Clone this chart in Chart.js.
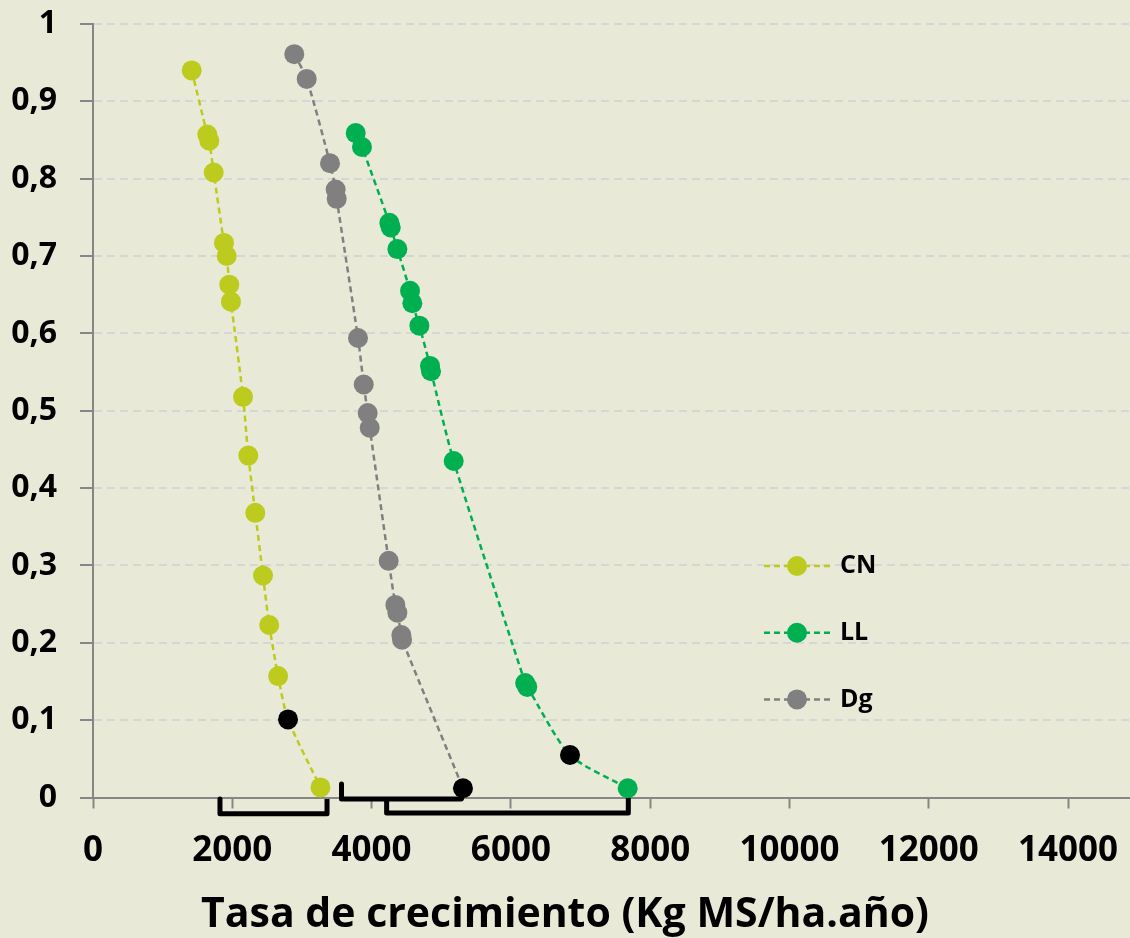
<!DOCTYPE html>
<html lang="es">
<head>
<meta charset="utf-8">
<title>Tasa de crecimiento</title>
<script src="https://cdn.jsdelivr.net/npm/chart.js@4/dist/chart.umd.min.js"></script>
<style>
  html, body { margin: 0; padding: 0; background: #e9e9d8; }
  #cadre { width: 1130px; height: 938px; }
</style>
</head>
<body>
<div id="cadre"><canvas id="grafico"></canvas></div>
<script>
// Données (x = Kg MS/ha.año, y = probabilité cumulée)
const cnX = [1417, 1641, 1670, 1733, 1881, 1920, 1957, 1981, 2154, 2230, 2330, 2441, 2530, 2658, 2800, 3266];
const cnY = [0.940, 0.857, 0.849, 0.808, 0.717, 0.700, 0.663, 0.641, 0.518, 0.442, 0.368, 0.287, 0.223, 0.157, 0.101, 0.013];
const llX = [3772, 3862, 4255, 4275, 4370, 4552, 4585, 4686, 4839, 4853, 5179, 6205, 6235, 6849, 7677];
const llY = [0.859, 0.841, 0.743, 0.737, 0.709, 0.655, 0.639, 0.610, 0.558, 0.551, 0.435, 0.148, 0.143, 0.055, 0.012];
const dgX = [2890, 3068, 3403, 3484, 3499, 3805, 3887, 3944, 3973, 4245, 4341, 4370, 4427, 4437, 5312];
const dgY = [0.961, 0.929, 0.820, 0.786, 0.774, 0.594, 0.534, 0.497, 0.478, 0.306, 0.249, 0.239, 0.210, 0.204, 0.012];

// point noir de chaque série (index)
const cnNoir = 14;
const llNoir = 13;
const dgNoir = 14;

// accolades sous l'axe des x
const accCNX = [1823, 1823, 3360, 3360];
const accCNY = [-0.002, -0.021, -0.021, -0.002];
const accDgX = [3568, 3568, 5290, 5312];
const accDgY = [0.0175, -0.002, -0.002, 0.005];
const accLLX = [4216, 4216, 7686, 7686];
const accLLY = [-0.005, -0.020, -0.020, 0.0];

const xTicks = [0, 2000, 4000, 6000, 8000, 10000, 12000, 14000];
const yTicks = [0, 0.1, 0.2, 0.3, 0.4, 0.5, 0.6, 0.7, 0.8, 0.9, 1];

const couleurs = { CN: '#bccb1d', LL: '#00b050', Dg: '#808080' };
const police = '"Open Sans", Lato, sans-serif';

function points(xs, ys) {
  return xs.map((x, i) => ({ x: x, y: ys[i] }));
}

function serie(nom, xs, ys, noir) {
  const c = couleurs[nom];
  return {
    label: nom,
    data: points(xs, ys),
    borderColor: c,
    backgroundColor: c,
    borderWidth: 2.5,
    borderDash: [6, 4],
    tension: 0.25,
    pointRadius: 10,
    pointHoverRadius: 10,
    pointBorderWidth: 0,
    pointBackgroundColor: (ctx) => ctx.dataIndex === noir ? '#000000' : c,
    clip: false
  };
}

function accolade(xs, ys) {
  return {
    label: '',
    data: points(xs, ys),
    borderColor: '#000000',
    borderWidth: 5,
    borderJoinStyle: 'round',
    pointRadius: 0,
    tension: 0,
    clip: false
  };
}

// Légende dessinée à droite, dans la zone du graphique
const legendeDroite = {
  id: 'legendeDroite',
  afterDatasetsDraw(chart) {
    const ctx = chart.ctx;
    const noms = ['CN', 'LL', 'Dg'];
    noms.forEach((nom, i) => {
      const y = 566 + i * 66.7;
      ctx.save();
      ctx.strokeStyle = couleurs[nom];
      ctx.lineWidth = 2.5;
      ctx.setLineDash([6, 4]);
      ctx.beginPath();
      ctx.moveTo(764, y);
      ctx.lineTo(830, y);
      ctx.stroke();
      ctx.setLineDash([]);
      ctx.fillStyle = couleurs[nom];
      ctx.beginPath();
      ctx.arc(797, y, 10, 0, Math.PI * 2);
      ctx.fill();
      ctx.fillStyle = '#000000';
      ctx.font = 'bold 25px ' + police;
      ctx.textBaseline = 'middle';
      ctx.textAlign = 'left';
      ctx.fillText(nom, 840, y);
      ctx.restore();
    });
  }
};

new Chart(document.getElementById('grafico'), {
  type: 'line',
  data: {
    datasets: [
      serie('CN', cnX, cnY, cnNoir),
      serie('LL', llX, llY, llNoir),
      serie('Dg', dgX, dgY, dgNoir),
      accolade(accCNX, accCNY),
      accolade(accDgX, accDgY),
      accolade(accLLX, accLLY)
    ]
  },
  options: {
    responsive: true,
    maintainAspectRatio: false,
    animation: false,
    layout: { autoPadding: false, padding: { top: 24, right: 0, left: 0, bottom: 0 } },
    plugins: {
      legend: { display: false },
      tooltip: { enabled: false },
      title: {
        display: true,
        position: 'bottom',
        text: 'Tasa de crecimiento (Kg MS/ha.año)',
        color: '#000000',
        font: { family: police, size: 41, weight: 'bold', lineHeight: 1.2 },
        padding: { top: 0, bottom: -2 }
      }
    },
    scales: {
      x: {
        type: 'linear',
        min: 0,
        max: 14889,
        afterBuildTicks: (scale) => { scale.ticks = xTicks.map(v => ({ value: v })); },
        afterFit: (scale) => {
          scale.height = 93.3;
          scale.paddingLeft = 0;
          scale.paddingRight = 0;
        },
        ticks: {
          color: '#000000',
          font: { family: police, size: 35, weight: 'bold', lineHeight: 1.2 },
          padding: 22,
          maxRotation: 0,
          autoSkip: false,
          callback: (v) => String(v)
        },
        grid: {
          drawOnChartArea: false,
          drawTicks: true,
          tickLength: 11,
          tickColor: '#868686',
          tickWidth: 2
        },
        border: { display: true, color: '#868686', width: 2 }
      },
      y: {
        min: 0,
        max: 1,
        afterBuildTicks: (scale) => { scale.ticks = yTicks.map(v => ({ value: v })); },
        afterFit: (scale) => {
          scale.width = 93;
          scale.paddingTop = 0;
          scale.paddingBottom = 0;
        },
        ticks: {
          color: '#000000',
          font: { family: police, size: 32, weight: 'bold', lineHeight: 1.2 },
          padding: 23,
          callback: (v) => String(Math.round(v * 10) / 10).replace('.', ',')
        },
        grid: {
          color: '#d6d6d6',
          lineWidth: 2,
          drawTicks: true,
          tickLength: 13,
          tickColor: '#868686',
          tickWidth: 2
        },
        border: { display: true, color: '#868686', width: 2, dash: [8, 5] }
      }
    }
  },
  plugins: [legendeDroite]
});
</script>
</body>
</html>
